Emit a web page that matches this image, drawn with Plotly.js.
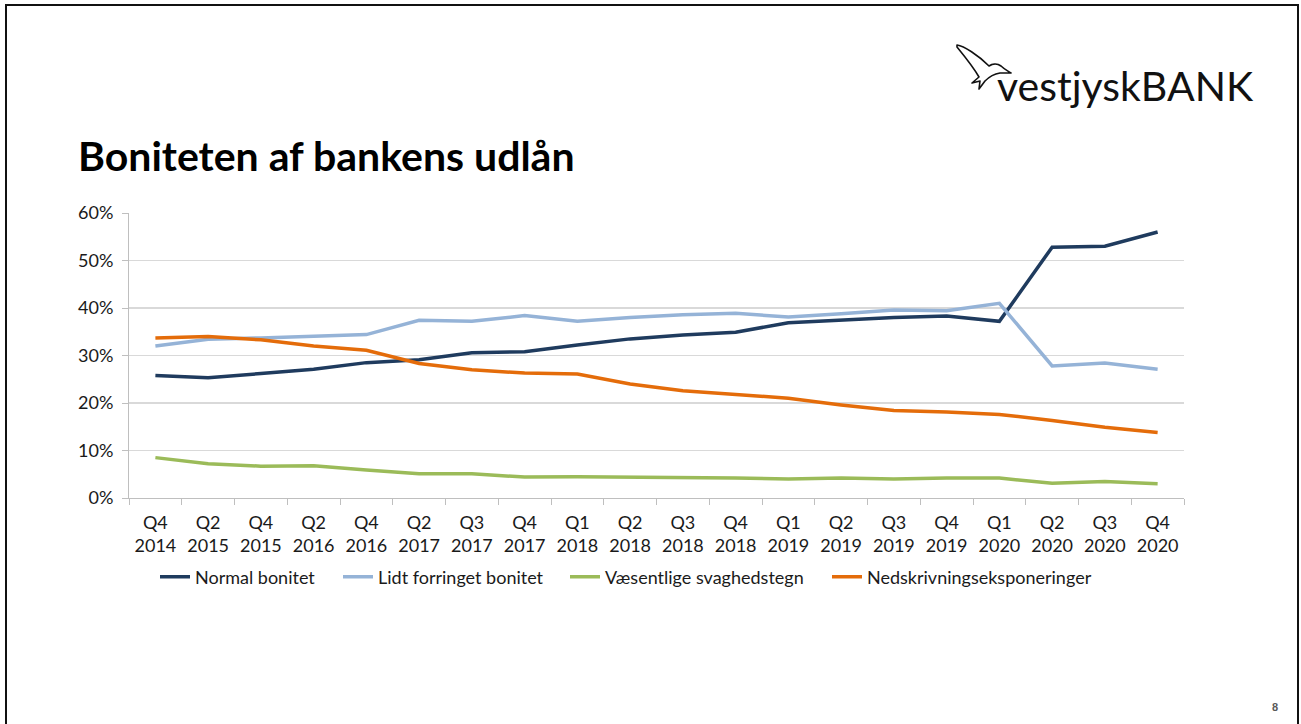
<!DOCTYPE html>
<html>
<head>
<meta charset="utf-8">
<script src="https://cdn.plot.ly/plotly-3.0.1.min.js"></script>
<style>
  html, body { margin: 0; padding: 0; background: #fff; }
  #wrap { position: relative; width: 1301px; height: 724px; overflow: hidden; }
  #chart { position: absolute; left: 0; top: 0; width: 1301px; height: 724px; }
  #frame { position: absolute; left: 5px; top: 4px; width: 1290px; height: 760px; border: 2.5px solid #111; pointer-events: none; }
  #bird { position: absolute; left: 0; top: 0; pointer-events: none; }
</style>
</head>
<body>
<div id="wrap">
  <div id="chart"></div>
  <div id="frame"></div>
  <svg id="bird" width="1301" height="724">
    <path d="M957,45 C964,46 978,55 989,66 C992,64 997,63 1001,66 C1004,69 1008,71 1011,73 L1000,73 C994,74 989,77 985,81 L979,89 L980,81 L972,83 L979,77 C975,70 966,58 957,47 Z" fill="none" stroke="#111" stroke-width="1.6" stroke-linejoin="round"/>
  </svg>
</div>
<script>
const categories = ["Q4<br>2014","Q2<br>2015","Q4<br>2015","Q2<br>2016","Q4<br>2016","Q2<br>2017","Q3<br>2017","Q4<br>2017","Q1<br>2018","Q2<br>2018","Q3<br>2018","Q4<br>2018","Q1<br>2019","Q2<br>2019","Q3<br>2019","Q4<br>2019","Q1<br>2020","Q2<br>2020","Q3<br>2020","Q4<br>2020"];
const normalBonitet = [25.8,25.3,26.2,27.1,28.5,29.1,30.6,30.8,32.2,33.5,34.3,34.9,36.9,37.5,38.0,38.3,37.2,52.8,53.0,56.0];
const lidtForringet = [32.0,33.4,33.7,34.1,34.4,37.4,37.2,38.4,37.2,38.0,38.6,38.9,38.1,38.8,39.6,39.4,41.0,27.8,28.4,27.1];
const vaesentlige = [8.5,7.2,6.7,6.8,5.9,5.1,5.1,4.4,4.5,4.4,4.4,4.2,4.0,4.2,4.0,4.2,4.2,3.1,3.5,3.0];
const nedskrivning = [33.7,34.0,33.3,32.0,31.1,28.3,27.0,26.3,26.1,24.0,22.6,21.8,21.0,19.6,18.4,18.1,17.6,16.3,14.9,13.8];
const seriesNames = ["Normal bonitet","Lidt forringet bonitet","Væsentlige svaghedstegn","Nedskrivningseksponeringer"];
const seriesColors = ["#1F3B5E","#95B3D7","#9BBB59","#E46C0A"];
const yTickVals = [0,10,20,30,40,50,60];
const yTickText = ["0%","10%","20%","30%","40%","50%","60%"];

const W = 1301, H = 724;
const FONT = "Lato, 'Open Sans', sans-serif";
const seriesData = [normalBonitet, lidtForringet, vaesentlige, nedskrivning];
const legendIds = ["legend","legend2","legend3","legend4"];
const legendTextX = [195, 378, 605, 867];

const traces = seriesData.map((vals, i) => ({
  type: "scatter", mode: "lines",
  x: categories, y: vals, name: seriesNames[i],
  line: { color: seriesColors[i], width: 3.5 },
  legend: legendIds[i], showlegend: true, hoverinfo: "skip"
}));

const layout = {
  width: W, height: H,
  paper_bgcolor: "#fff", plot_bgcolor: "#fff",
  showlegend: true,
  margin: { l: 129, r: 117, t: 213, b: 226 },
  font: { family: FONT, color: "#1a1a1a", size: 18 },
  title: {
    text: "<b>Boniteten af bankens udlån</b>",
    font: { family: FONT, size: 41, color: "#000" },
    xref: "container", x: 78 / W, xanchor: "left",
    yref: "container", y: 1 - 157 / H, yanchor: "middle"
  },
  xaxis: {
    type: "category", range: [-0.5, categories.length - 0.5],
    tickson: "boundaries", ticks: "outside", ticklen: 6, tickcolor: "#bfbfbf",
    tickangle: 0, ticklabelstandoff: 8,
    showline: true, linecolor: "#bfbfbf", linewidth: 1,
    showgrid: false, zeroline: false,
    tickfont: { family: FONT, size: 18, color: "#1a1a1a" },
    fixedrange: true
  },
  yaxis: {
    range: [0, 60], tickmode: "array", tickvals: yTickVals, ticktext: yTickText,
    ticks: "outside", ticklen: 6, tickcolor: "#bfbfbf",
    ticklabelstandoff: 5,
    showline: true, linecolor: "#bfbfbf", linewidth: 1,
    showgrid: true, gridcolor: "#d9d9d9", gridwidth: 1.3, zeroline: false,
    tickfont: { family: FONT, size: 18, color: "#1a1a1a" },
    fixedrange: true
  },
  annotations: [
    { text: "vestjyskBANK", xref: "paper", yref: "paper",
      x: (1256 - 129) / 1055, xanchor: "right",
      y: (498 - 86) / 285, yanchor: "middle", showarrow: false,
      font: { family: FONT, size: 41, color: "#111" } },
    { text: "<b>8</b>", xref: "paper", yref: "paper",
      x: (1275 - 129) / 1055, xanchor: "center",
      y: (498 - 707) / 285, yanchor: "middle", showarrow: false,
      font: { family: "'Liberation Sans', Arial, sans-serif", size: 11, color: "#595959" } }
  ]
};
legendIds.forEach((id, i) => {
  layout[id] = {
    visible: true,
    orientation: "h", xref: "container", yref: "container",
    x: (legendTextX[i] - 40) / W, xanchor: "left",
    y: 1 - 577 / H, yanchor: "middle",
    bgcolor: "rgba(0,0,0,0)", borderwidth: 0,
    itemwidth: 30,
    font: { family: FONT, size: 18, color: "#1a1a1a" }
  };
});

Plotly.newPlot("chart", traces, layout, { displayModeBar: false, staticPlot: true });
</script>
</body>
</html>
